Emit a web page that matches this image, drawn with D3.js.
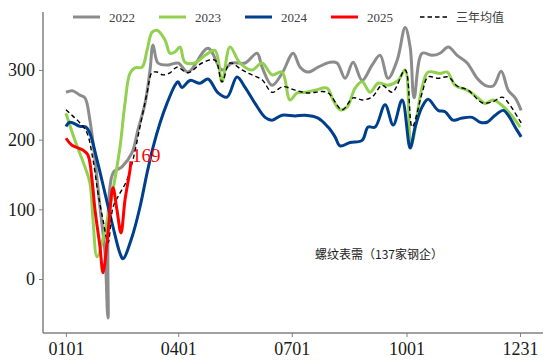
<!DOCTYPE html>
<html><head><meta charset="utf-8">
<script src="https://cdn.jsdelivr.net/npm/d3@7"></script>
<style>body{margin:0;background:#fff}svg{display:block}</style>
</head><body><svg id="c" width="550" height="364"></svg>
<script>
// ---- data (day-of-year, value) ----
const xTickLabels = ["0101","0401","0701","1001","1231"];
const xTickDays = [1, 91, 182, 274, 365];
const yTicks = [0, 100, 200, 300];
const seriesNames = ["2022","2023","2024","2025","三年均值"];

const days2022 = [1,6.6,12,16.2,20.2,24.3,28.3,32.3,34.7,38.7,45.9,53.9,58.7,64.4,68.4,70.8,74.8,82.8,90.8,98.8,114.9,126.1,134.1,144.6,154.2,158.2,166.2,174.2,183.1,188.7,195.1,203.1,212.7,218.3,224.8,231.2,238.4,246.4,252.8,259.2,266.5,272.9,276.9,280.1,286.5,294.5,300.9,307.4,314.6,322.6,330.6,337,343.5,349.9,355.5,361.1,365.9];
const vals2022 = [268,270,264,260,228,171,103,37,-56,152,161,181,214,252,300,336,310,307,310,297,331,300,310,310,324,304,278,295,324,304,297,304,311,310,288,311,285,307,321,288,314,361,333,260,324,321,324,333,321,310,288,278,277,298,271,260,242];

const days2023 = [1,8.2,16.2,20.2,22.7,25.9,32.3,38.7,44.3,48.3,52.3,56.3,62,66,70,74,80.4,84.4,88.4,92.4,96.4,104.5,112.5,120.5,126.1,132.5,140.5,150.2,158.2,166.2,174.2,180.6,186.3,192.7,200.7,210.3,215.1,220.7,226.4,232.8,238.4,244.8,251.2,259.2,267.3,272.9,277.7,286.5,291.3,300.9,306.6,313,322.6,330.6,337,343.5,353.1,361.1,365.1];
const vals2023 = [238,199,161,138,85,32,70,128,189,252,295,303,304,328,354,357,343,324,326,333,311,310,321,328,283,333,310,300,310,293,297,257,267,268,271,274,257,243,247,274,283,268,281,278,285,300,192,275,297,295,297,278,271,261,252,257,245,228,218];

const days2024 = [1,4.2,12.2,17,20.2,25.9,32.3,38.7,44.3,46.7,53.9,60.3,66,70.8,76.4,82,88.4,90.8,94,100.4,108.5,114.9,122.9,130.1,138.1,144.6,152.6,160.6,166.2,174.2,184.7,192.7,203.1,211.1,216.7,220.7,228.8,238.4,243.2,248.8,256.8,263.3,270.5,276.9,280.9,286.5,291.3,299.3,304.9,311.4,318.6,326.6,333,338.6,345.1,351.5,355.5,361.1,365.9];
const vals2024 = [219,225,219,218,209,171,123,75,37,29,60,103,152,189,224,252,278,283,275,285,281,287,267,261,290,275,252,232,228,235,234,235,231,218,204,191,196,199,218,218,250,221,257,188,218,247,258,242,240,228,231,232,225,225,235,242,235,218,204];

const days2025 = [1,5.8,14.6,18.6,21.9,24.3,28.3,30.7,34.7,38.7,41.9,45.1,48.3,52.3,53.1];
const vals2025 = [202,192,185,178,142,99,46,9,66,131,99,66,113,156,169];

const daysAvg = [1,5.8,12.2,17.8,22.7,26.7,30.7,34.7,38.7,42.7,49.9,54.7,60.3,66,70,74,78.8,84.4,90,98.8,110.1,120.5,126.1,132.5,142.2,150.2,158.2,166.2,175,184.7,195.1,210.3,222.4,231.2,238.4,246.4,254.4,262.5,272.9,278.5,286.5,291.3,299.3,307.4,314.6,323.4,334.6,342.7,350.7,355.5,365.9];
const valsAvg = [243,235,224,210,171,123,85,52,103,118,142,171,218,267,296,297,293,296,304,296,310,314,283,310,300,293,286,268,276,271,267,268,243,260,257,261,278,268,300,218,267,290,288,290,277,271,253,254,261,253,224];

const endLabel = "169";
const noteText = "螺纹表需（137家钢企）";

// ---- drawing ----
const W = 550, H = 364;
const m = {l:43, r:543, t:12, b:333};
const x = d3.scaleLinear().domain([-17.4, 383.4]).range([m.l, m.r]);
const y = d3.scaleLinear().domain([-77.5, 383.2]).range([m.b, m.t]);
const svg = d3.select("#c");
const serif = "'Liberation Serif','DejaVu Serif',serif";

const series = [
  {name:seriesNames[0], d:days2022, v:vals2022, color:"#8c8c8c", w:3, dash:null},
  {name:seriesNames[1], d:days2023, v:vals2023, color:"#92d050", w:3, dash:null},
  {name:seriesNames[2], d:days2024, v:vals2024, color:"#003f8c", w:3, dash:null},
  {name:seriesNames[3], d:days2025, v:vals2025, color:"#ff0000", w:3, dash:null},
  {name:seriesNames[4], d:daysAvg, v:valsAvg, color:"#000000", w:1.4, dash:"4.5,3"}
];

const line = d3.line().x(p=>x(p[0])).y(p=>y(p[1])).curve(d3.curveCatmullRom.alpha(0.5));
const drawOrder = [0,1,2,4,3];
drawOrder.forEach(i=>{
  const s = series[i];
  svg.append("path").datum(s.d.map((dd,k)=>[dd,s.v[k]]))
    .attr("d", line).attr("fill","none").attr("stroke",s.color)
    .attr("stroke-width",s.w).attr("stroke-linejoin","round")
    .attr("stroke-dasharray",s.dash);
});

// axes
const axisColor = "#808080";
const yAxis = svg.append("g").attr("transform",`translate(${m.l},0)`)
  .call(d3.axisLeft(y).tickValues(yTicks).tickSize(4).tickPadding(4));
const xAxis = svg.append("g").attr("transform",`translate(0,${m.b})`)
  .call(d3.axisBottom(x).tickValues(xTickDays).tickFormat((d,i)=>xTickLabels[i]).tickSize(4).tickPadding(5));
[yAxis,xAxis].forEach(g=>{
  g.select(".domain").attr("stroke",axisColor).attr("stroke-width",1.5);
  g.selectAll(".tick line").attr("stroke",axisColor).attr("stroke-width",1);
  g.selectAll("text").attr("font-family",serif).attr("font-size",18).attr("fill","#1a1a1a");
});
yAxis.select(".domain").attr("d",`M0,${m.t}V${m.b}`);
xAxis.select(".domain").attr("d",`M${m.l},0H${m.r}`);

// end label
const s25 = series[3];
svg.append("text").attr("x", x(s25.d[s25.d.length-1])+1).attr("y", y(s25.v[s25.v.length-1])+1)
  .attr("font-family",serif).attr("font-size",19).attr("fill","#ff0000").text(endLabel);

// note
svg.append("text").attr("x",315).attr("y",259)
  .attr("font-family","'Noto Sans CJK SC',sans-serif").attr("font-size",12).attr("fill","#222")
  .text(noteText);

// legend
const legX = [73,159,245,331,420];
series.forEach((s,i)=>{
  const g = svg.append("g").attr("transform",`translate(${legX[i]},17)`);
  g.append("line").attr("x1",0).attr("x2",27).attr("y1",0).attr("y2",0)
    .attr("stroke",s.color).attr("stroke-width",s.w).attr("stroke-dasharray",s.dash);
  g.append("text").attr("x",36).attr("y",4.5)
    .attr("font-family", i===4 ? "'Noto Sans CJK SC',sans-serif" : serif)
    .attr("font-size",i===4?12:13).attr("fill","#404040").text(s.name);
});
</script></body></html>
